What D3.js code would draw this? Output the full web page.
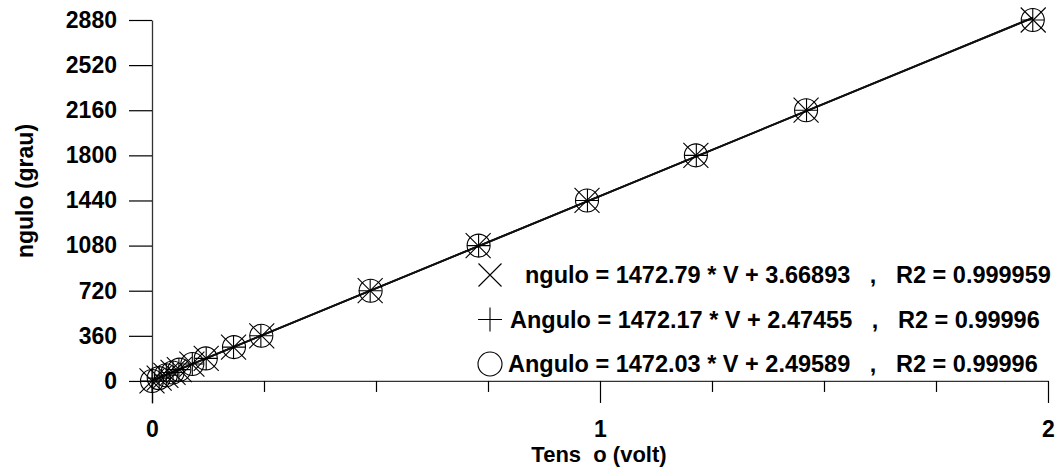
<!DOCTYPE html>
<html>
<head>
<meta charset="utf-8">
<script src="https://cdn.jsdelivr.net/npm/d3@7"></script>
<style>
  body { margin: 0; background: #fff; }
  svg text { font-family: "Liberation Sans", Arial, sans-serif; font-weight: bold; fill: #000; }
</style>
</head>
<body>
<svg class="chart" width="1058" height="471"></svg>
<script>
// angles (grau) of the measured points
var angles = [0, 22.5, 45, 67.5, 90, 135, 180, 270, 360, 720, 1080, 1440, 1800, 2160, 2880];
// measured voltages for the three runs
var voltsX      = [0, 0.016, 0.031, 0.047, 0.061, 0.089, 0.121, 0.182, 0.245, 0.487, 0.728, 0.971, 1.214, 1.460, 1.967];
var voltsPlus   = [0, 0.016, 0.032, 0.047, 0.060, 0.090, 0.121, 0.182, 0.243, 0.487, 0.729, 0.972, 1.215, 1.461, 1.966];
var voltsCircle = [0, 0.015, 0.031, 0.046, 0.061, 0.090, 0.120, 0.183, 0.244, 0.488, 0.729, 0.971, 1.214, 1.460, 1.966];

// linear fits (from the legend)
var slopes     = [1472.79, 1472.17, 1472.03];
var intercepts = [3.66893, 2.47455, 2.49589];
var fitLabels = [
  "ngulo = 1472.79 * V + 3.66893   ,   R2 = 0.999959",
  "Angulo = 1472.17 * V + 2.47455   ,   R2 = 0.99996",
  "Angulo = 1472.03 * V + 2.49589   ,   R2 = 0.99996"
];

var yTicks = [0, 360, 720, 1080, 1440, 1800, 2160, 2520, 2880];
var xTicks = [0, 1, 2];
var xMinor = [0.25, 0.5, 0.75, 1.25, 1.5, 1.75];

var svg = d3.select(".chart");

var x = d3.scaleLinear().domain([0, 2]).range([152, 1048]);
var y = d3.scaleLinear().domain([-176, 2880]).range([403, 20]);

// y axis
var yAxis = svg.append("g")
    .attr("transform", "translate(" + x(0) + ",0)")
    .call(d3.axisLeft(y).tickValues(yTicks).tickSize(23).tickSizeOuter(0).tickPadding(12)
      .tickFormat(d3.format("d")));
yAxis.select(".domain").attr("stroke", "#333").attr("stroke-width", 1.3);
yAxis.selectAll(".tick line").attr("stroke", "#000").attr("stroke-width", 1.2);
yAxis.selectAll(".tick text").style("font-size", "23px").attr("font-family", null);

// x axis
var xAxis = svg.append("g")
    .attr("transform", "translate(0," + y(0) + ")")
    .call(d3.axisBottom(x).tickValues(xTicks).tickSize(22).tickSizeOuter(0).tickPadding(18)
      .tickFormat(d3.format("d")));
xAxis.select(".domain").attr("stroke", "#333").attr("stroke-width", 1.3);
xAxis.selectAll(".tick line").attr("stroke", "#000").attr("stroke-width", 1.2);
xAxis.selectAll(".tick text").style("font-size", "23px").attr("font-family", null);

var xAxisMinor = svg.append("g")
    .attr("transform", "translate(0," + y(0) + ")")
    .call(d3.axisBottom(x).tickValues(xMinor).tickSize(11).tickFormat(""));
xAxisMinor.select(".domain").remove();
xAxisMinor.selectAll(".tick line").attr("stroke", "#000").attr("stroke-width", 1.2);

// axis titles
svg.append("text")
    .attr("x", 599).attr("y", 462)
    .attr("text-anchor", "middle")
    .style("font-size", "22px")
    .style("white-space", "pre")
    .text("Tens  o (volt)");

svg.append("text")
    .attr("transform", "translate(33,191) rotate(-90)")
    .attr("text-anchor", "middle")
    .style("font-size", "23px")
    .text("ngulo (grau)");

// fit lines
var series = [voltsX, voltsPlus, voltsCircle];
var fitG = svg.append("g");
series.forEach(function(v, i) {
  var vmax = d3.max(v);
  fitG.append("line")
      .attr("x1", x(0)).attr("y1", y(intercepts[i]))
      .attr("x2", x(vmax)).attr("y2", y(slopes[i] * vmax + intercepts[i]))
      .attr("stroke", "#111").attr("stroke-width", 1.7);
});

// marker shapes
function drawMarker(g, type, r) {
  if (type == "x") {
    g.append("path").attr("d", "M" + (-r) + "," + (-r) + "L" + r + "," + r + "M" + (-r) + "," + r + "L" + r + "," + (-r));
  } else if (type == "plus") {
    g.append("path").attr("d", "M" + (-r) + ",0L" + r + ",0M0," + (-r) + "L0," + r);
  } else {
    g.append("circle").attr("r", r);
  }
  g.selectAll("path, circle").attr("fill", "none").attr("stroke", "#000").attr("stroke-width", 1.1);
}

var types = ["x", "plus", "circle"];
var sizes = [12.5, 11.5, 11.5];

series.forEach(function(v, i) {
  var pts = v.map(function(d, j) { return {v: d, a: angles[j]}; });
  svg.append("g").selectAll("g")
      .data(pts)
      .enter().append("g")
      .attr("transform", function(d) { return "translate(" + x(d.v) + "," + y(d.a) + ")"; })
      .each(function() { drawMarker(d3.select(this), types[i], sizes[i]); });
});

// legend
var legendX = [525, 510, 508];
var legend = svg.append("g");
fitLabels.forEach(function(t, i) {
  var cy = 275 + i * 44.5;
  var m = legend.append("g").attr("transform", "translate(490," + cy + ")");
  drawMarker(m, types[i], i == 0 ? 11.5 : 12);
  legend.append("text")
      .attr("x", legendX[i]).attr("y", cy + 8)
      .style("font-size", "23.5px")
      .style("white-space", "pre")
      .text(t);
});
</script>
</body>
</html>
